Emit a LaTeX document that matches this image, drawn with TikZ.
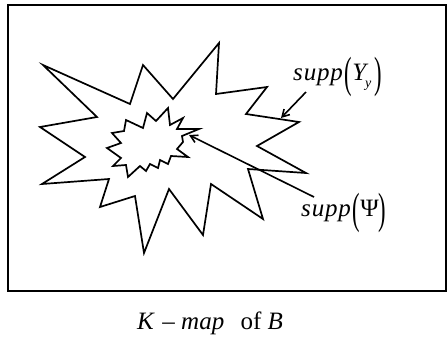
\documentclass[tikz,border=0pt]{standalone}
\usepackage{fontspec}
\usepackage{graphicx}
\setmainfont{Liberation Serif}
\usetikzlibrary{arrows.meta}
\newcommand\tallparen[1]{\raisebox{-0.3em}{\scalebox{0.9}[1.75]{#1}}}
\tikzset{
  outline/.style={line width=1.7pt, line join=miter},
  pointer/.style={line width=1.6pt, -{Straight Barb[length=7pt,width=8pt,line width=1.6pt]}},
  lab/.style={inner sep=0pt, anchor=base west, font=\fontsize{25}{28}\selectfont}
}
\begin{document}
\begin{tikzpicture}[x=1pt,y=-1pt]
\useasboundingbox (0,0) rectangle (447,338);
\draw[line width=1.6pt] (8,5) rectangle (446,291);
% outer star
\draw[outline] (43,65) -- (130,104) -- (143,65) -- (173,99) -- (219,43) -- (216,94)
  -- (267,87) -- (246,114) -- (299,122) -- (257,146) -- (306,173) -- (248,169)
  -- (263,219) -- (211,184) -- (203,235) -- (169,189) -- (144,253) -- (135,196)
  -- (100,207) -- (109,179) -- (42,184) -- (85,157) -- (40,127) -- (97,117) -- cycle;
% inner star
\draw[outline] (126,120) -- (143,128) -- (147,113) -- (156,121) -- (168,108) -- (170,125)
  -- (183,118) -- (177,129) -- (199,129) -- (182,136) -- (183,142) -- (177,149)
  -- (188,157) -- (171,156) -- (168,164) -- (160,160) -- (158,168) -- (150,164)
  -- (146,171) -- (140,166) -- (128,177) -- (126,165) -- (113,166) -- (121,158)
  -- (107,148) -- (121,143) -- (112,133) -- (124,131) -- cycle;
% labels
\node[lab] (ly) at (293,80) {\textit{s\kern0.04em u\kern0.03em p\kern0.03em p}\kern0.08em\tallparen{(}\textit{Y\kern-0.05em}\raisebox{-0.3em}{\fontsize{14}{16}\selectfont\textit{y}}\kern0.12em\tallparen{)}};
\node[lab] (lp) at (301,216) {\textit{s\kern0.04em u\kern0.03em p\kern0.03em p}\kern0.08em\tallparen{(}Ψ\tallparen{)}};
\node[lab] (km) at (137,329) {\textit{K}\kern0.3em–\kern0.25em\textit{map}\hspace{0.65em}of\kern0.25em\textit{B}};
% arrow end points
\coordinate (ay) at (306,92);
\coordinate (ey) at (281,118);
\coordinate (ap) at (314,197);
\coordinate (ep) at (189,135);
\draw[pointer] (ay) -- (ey);
\draw[pointer] (ap) -- (ep);
\end{tikzpicture}
\end{document}
